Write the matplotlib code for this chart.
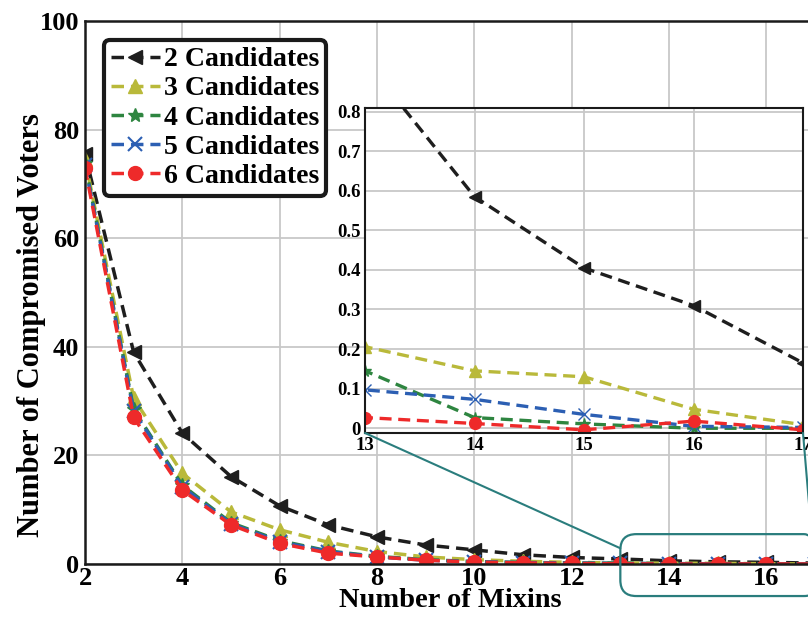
import matplotlib
matplotlib.use("Agg")
import matplotlib.pyplot as plt
from matplotlib.patches import FancyBboxPatch, ConnectionPatch
from matplotlib.transforms import IdentityTransform

plt.rcParams['font.family'] = ['Liberation Serif', 'DejaVu Serif']
plt.rcParams['font.weight'] = 'bold'

mixins = list(range(2, 18))
cand2 = [75.5, 39.0, 24.1, 16.1, 10.7, 7.2, 5.0, 3.5, 2.6, 1.7, 1.2, 0.93, 0.585, 0.405, 0.31, 0.165]
cand3 = [74.5, 30.5, 16.7, 9.6, 6.3, 4.0, 2.3, 1.3, 0.8, 0.5, 0.3, 0.206, 0.145, 0.13, 0.048, 0.009]
cand4 = [73.8, 28.5, 14.5, 7.6, 4.3, 2.4, 1.4, 0.8, 0.45, 0.28, 0.2, 0.145, 0.027, 0.011, 0.0, 0.0]
cand5 = [73.5, 28.2, 14.2, 7.4, 4.1, 2.3, 1.3, 0.7, 0.4, 0.25, 0.15, 0.097, 0.073, 0.035, 0.005, 0.002]
cand6 = [73.0, 27.0, 13.6, 7.2, 3.8, 2.0, 1.3, 0.7, 0.35, 0.2, 0.1, 0.027, 0.012, -0.004, 0.018, -0.004]

labels = ['2 Candidates', '3 Candidates', '4 Candidates', '5 Candidates', '6 Candidates']
colors = ['#1e1e1e', '#b9b93a', '#2e8540', '#2c5fb3', '#ee2a2a']
markers = ['<', '^', '*', 'x', 'o']
series = [cand2, cand3, cand4, cand5, cand6]

fig = plt.figure(figsize=(8.08, 6.19), dpi=100)
ax = fig.add_axes([85 / 808, 55 / 619, 730 / 808, 543 / 619])

for ys, c, m, lab in zip(series, colors, markers, labels):
    ax.plot(mixins, ys, color=c, marker=m, markersize=10, lw=2.5,
            dashes=(3.6, 2.0), label=lab, markeredgewidth=1.5 if m == 'x' else 1,
            markeredgecolor=c)

ax.set_xlim(2, 17)
ax.set_ylim(0, 100)
ax.set_xticks(range(2, 17, 2))
ax.set_yticks(range(0, 101, 20))
ax.grid(True, color='#c8c8c8', lw=1.3)
ax.set_axisbelow(True)
ax.tick_params(length=0, labelsize=19)
ax.tick_params(axis='x', pad=2)
ax.tick_params(axis='y', pad=4)
for lbl in ax.get_xticklabels() + ax.get_yticklabels():
    lbl.set_fontweight('bold')
for s in ax.spines.values():
    s.set_linewidth(1.8)
    s.set_color('#1a1a1a')
ax.set_xlabel('Number of Mixins', fontsize=20.5, fontweight='bold', labelpad=-1)
ax.set_ylabel('Number of Compromised Voters', fontsize=22, fontweight='bold')
ax.yaxis.set_label_coords(-0.054, 0.44)

leg = ax.legend(loc='upper left', bbox_to_anchor=(0.026, 0.965), fontsize=20,
                handlelength=1.75, handletextpad=0.15, labelspacing=0.13,
                borderpad=0.25, borderaxespad=0, fancybox=True, framealpha=1)
leg.get_frame().set_edgecolor('#1a1a1a')
leg.get_frame().set_linewidth(3)
for t in leg.get_texts():
    t.set_fontweight('bold')

# inset
ins = fig.add_axes([365 / 808, (619 - 433) / 619, 438 / 808, 325 / 619])
for ys, c, m in zip(series, colors, markers):
    ins.plot(mixins, ys, color=c, marker=m, markersize=8.5, lw=2.4,
             dashes=(3.6, 2.0), markeredgecolor=c)
ins.set_xlim(13, 17)
ins.set_ylim(-0.012, 0.809)
ins.set_xticks([13, 14, 15, 16, 17])
ins.set_yticks([0, 0.1, 0.2, 0.3, 0.4, 0.5, 0.6, 0.7, 0.8])
ins.set_yticklabels(['0', '0.1', '0.2', '0.3', '0.4', '0.5', '0.6', '0.7', '0.8'])
ins.grid(True, color='#c8c8c8', lw=1.3)
ins.set_axisbelow(True)
ins.tick_params(length=0, labelsize=13.5, pad=3)
for lbl in ins.get_xticklabels() + ins.get_yticklabels():
    lbl.set_fontweight('bold')
for s in ins.spines.values():
    s.set_linewidth(1.5)
    s.set_color('#1a1a1a')

# highlight box around zoomed region (drawn in pixel space for round corners)
teal = '#2a7d7d'
fig.canvas.draw()
x0, y0 = ax.transData.transform((13.0, -5.9))
x1, y1 = ax.transData.transform((17.1, 5.5))
box = FancyBboxPatch((x0, y0), x1 - x0, y1 - y0,
                     boxstyle='round,pad=0,rounding_size=16',
                     transform=IdentityTransform(), fill=False,
                     edgecolor=teal, lw=1.6, clip_on=False, zorder=5)
fig.patches.append(box)

for (xa, ya), (xb, yb) in [((13, -0.012), (13.0, 2.9)), ((17, -0.012), (16.93, 5.5))]:
    con = ConnectionPatch(xyA=(xa, ya), coordsA=ins.transData,
                          xyB=(xb, yb), coordsB=ax.transData,
                          color=teal, lw=1.5, zorder=1)
    fig.add_artist(con)

fig.savefig('out.png', dpi=100)
